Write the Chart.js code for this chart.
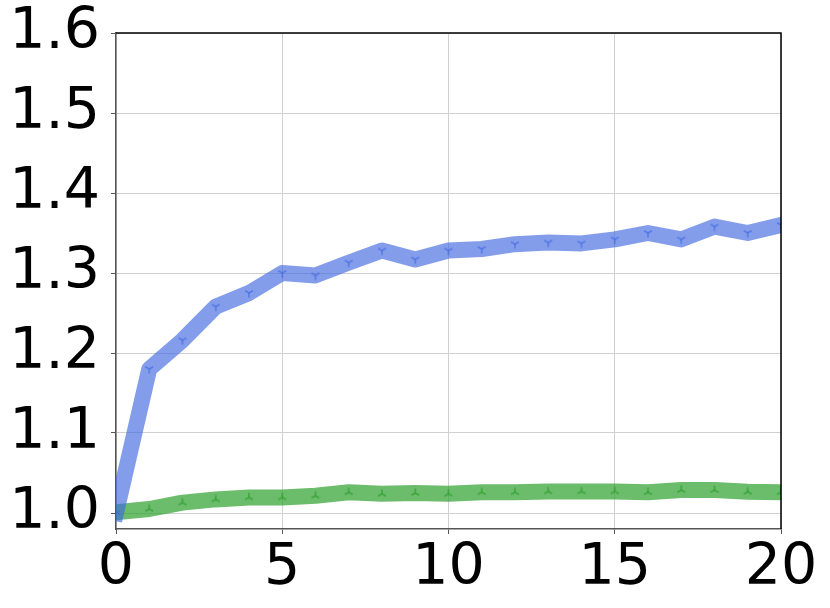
<!DOCTYPE html>
<html>
<head>
<meta charset="utf-8">
<script src="https://cdn.jsdelivr.net/npm/chart.js@4/dist/chart.umd.min.js"></script>
<style>
  html, body { margin: 0; padding: 0; background: #fff; }
  #wrap { width: 830px; height: 608px; }
</style>
</head>
<body>
<div id="wrap"><canvas id="chart" width="830" height="608"></canvas></div>
<script>
// --- data ---
const STEPS = [0, 1, 2, 3, 4, 5, 6, 7, 8, 9, 10, 11, 12, 13, 14, 15, 16, 17, 18, 19, 20];
const BLUE_VALUES = [1.000, 1.180, 1.216, 1.258, 1.275, 1.300, 1.297, 1.313, 1.328, 1.317, 1.328,
                     1.330, 1.336, 1.338, 1.337, 1.342, 1.350, 1.342, 1.358, 1.350, 1.360];
const GREEN_VALUES = [1.001, 1.005, 1.013, 1.017, 1.0195, 1.0195, 1.0216, 1.026, 1.024, 1.025, 1.024,
                      1.026, 1.026, 1.027, 1.027, 1.027, 1.026, 1.0287, 1.0287, 1.0266, 1.026];
const X_TICKS = [0, 5, 10, 15, 20];
const Y_TICKS = [1.0, 1.1, 1.2, 1.3, 1.4, 1.5, 1.6];

const BLUE = 'rgba(65, 105, 225, 0.65)';
const GREEN = 'rgba(44, 160, 44, 0.7)';
const FONT = { family: 'DejaVu Sans', size: 57 };

// matplotlib-like tri markers ('1' = tri_down, '2' = tri_up)
function triMarker(color, down) {
    const c = document.createElement('canvas');
    c.width = 12; c.height = 12;
    const g = c.getContext('2d');
    g.strokeStyle = color;
    g.lineWidth = 1.6;
    const cx = 6, cy = 6, r = 4.5;
    const angles = down ? [90, 210, 330] : [270, 30, 150];
    angles.forEach(a => {
        const rad = a * Math.PI / 180;
        g.beginPath();
        g.moveTo(cx, cy);
        g.lineTo(cx + r * Math.cos(rad), cy + r * Math.sin(rad));
        g.stroke();
    });
    return c;
}

function toPoints(values) {
    return STEPS.map((s, i) => ({ x: s, y: values[i] }));
}

// top & right spines (black), left/bottom come from the axes
const frame = {
    id: 'frame',
    afterDraw(chart) {
        const { ctx, chartArea: a } = chart;
        ctx.save();
        ctx.strokeStyle = '#000';
        ctx.lineWidth = 1.5;
        ctx.beginPath();
        ctx.moveTo(a.left, a.top);
        ctx.lineTo(a.right, a.top);
        ctx.lineTo(a.right, a.bottom);
        ctx.stroke();
        ctx.restore();
    }
};

new Chart(document.getElementById('chart'), {
    type: 'line',
    data: {
        datasets: [{
            data: toPoints(BLUE_VALUES),
            borderColor: BLUE,
            borderWidth: 16,
            borderCapStyle: 'square',
            borderJoinStyle: 'round',
            pointStyle: triMarker(BLUE, true),
            pointRadius: 6,
            pointHoverRadius: 6,
            clip: 0,
            tension: 0
        }, {
            data: toPoints(GREEN_VALUES),
            borderColor: GREEN,
            borderWidth: 16,
            borderCapStyle: 'square',
            borderJoinStyle: 'round',
            pointStyle: triMarker(GREEN, false),
            pointRadius: 6,
            pointHoverRadius: 6,
            clip: 0,
            tension: 0
        }]
    },
    options: {
        responsive: false,
        animation: false,
        layout: { padding: { top: 33, right: 49, left: 0, bottom: 0 } },
        plugins: { legend: { display: false }, tooltip: { enabled: false } },
        scales: {
            x: {
                type: 'linear',
                min: 0,
                max: 20,
                afterBuildTicks: axis => { axis.ticks = X_TICKS.map(v => ({ value: v })); },
                afterFit: axis => { axis.height = 79; axis.paddingLeft = 0; axis.paddingRight = 0; },
                grid: { color: '#d0d0d0', lineWidth: 1, tickColor: '#555', tickLength: 5 },
                border: { color: '#555', width: 1.5 },
                ticks: { font: FONT, color: '#000', padding: 1, maxRotation: 0 }
            },
            y: {
                min: 0.98,
                max: 1.6,
                afterBuildTicks: axis => { axis.ticks = Y_TICKS.map(v => ({ value: v })); },
                afterFit: axis => { axis.width = 116; axis.paddingTop = 0; axis.paddingBottom = 0; },
                grid: { color: '#d0d0d0', lineWidth: 1, tickColor: '#555', tickLength: 5 },
                border: { color: '#555', width: 1.5 },
                ticks: { font: FONT, color: '#000', padding: 11, callback: v => v.toFixed(1) }
            }
        }
    },
    plugins: [frame]
});
</script>
</body>
</html>
